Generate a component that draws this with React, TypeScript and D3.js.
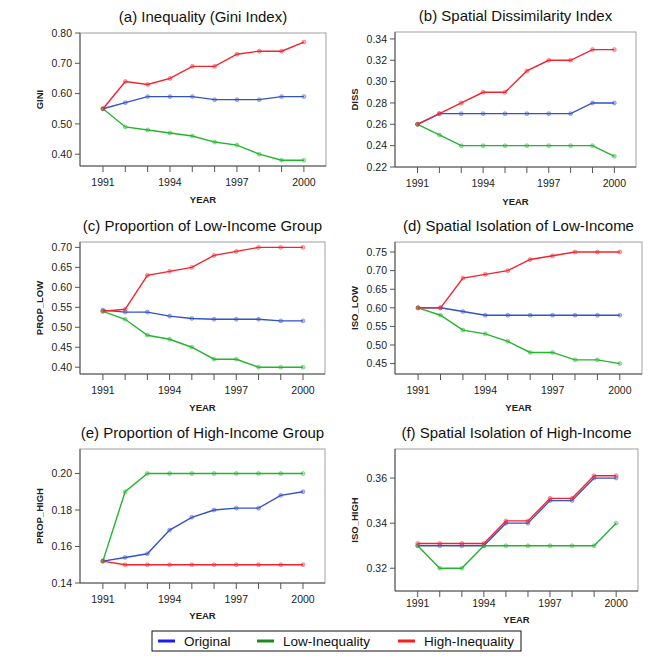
import React from "react";
import * as d3 from "d3";

const years = [1991, 1992, 1993, 1994, 1995, 1996, 1997, 1998, 1999, 2000];
const xTickLabels = [1991, 1994, 1997, 2000];
const seriesNames = ["Original", "Low-Inequality", "High-Inequality"];

const giniOriginal = [0.55, 0.57, 0.59, 0.59, 0.59, 0.58, 0.58, 0.58, 0.59, 0.59];
const giniLow = [0.55, 0.49, 0.48, 0.47, 0.46, 0.44, 0.43, 0.40, 0.38, 0.38];
const giniHigh = [0.55, 0.64, 0.63, 0.65, 0.69, 0.69, 0.73, 0.74, 0.74, 0.77];

const dissOriginal = [0.26, 0.27, 0.27, 0.27, 0.27, 0.27, 0.27, 0.27, 0.28, 0.28];
const dissLow = [0.26, 0.25, 0.24, 0.24, 0.24, 0.24, 0.24, 0.24, 0.24, 0.23];
const dissHigh = [0.26, 0.27, 0.28, 0.29, 0.29, 0.31, 0.32, 0.32, 0.33, 0.33];

const propLowOriginal = [0.543, 0.538, 0.538, 0.528, 0.522, 0.52, 0.52, 0.52, 0.516, 0.516];
const propLowLow = [0.54, 0.52, 0.48, 0.47, 0.45, 0.42, 0.42, 0.40, 0.40, 0.40];
const propLowHigh = [0.54, 0.545, 0.63, 0.64, 0.65, 0.68, 0.69, 0.70, 0.70, 0.70];

const isoLowOriginal = [0.60, 0.60, 0.59, 0.58, 0.58, 0.58, 0.58, 0.58, 0.58, 0.58];
const isoLowLow = [0.60, 0.58, 0.54, 0.53, 0.51, 0.48, 0.48, 0.46, 0.46, 0.45];
const isoLowHigh = [0.60, 0.60, 0.68, 0.69, 0.70, 0.73, 0.74, 0.75, 0.75, 0.75];

const propHighOriginal = [0.152, 0.154, 0.156, 0.169, 0.176, 0.18, 0.181, 0.181, 0.188, 0.19];
const propHighLow = [0.152, 0.19, 0.20, 0.20, 0.20, 0.20, 0.20, 0.20, 0.20, 0.20];
const propHighHigh = [0.152, 0.15, 0.15, 0.15, 0.15, 0.15, 0.15, 0.15, 0.15, 0.15];

const isoHighOriginal = [0.33, 0.33, 0.33, 0.33, 0.34, 0.34, 0.35, 0.35, 0.36, 0.36];
const isoHighLow = [0.33, 0.32, 0.32, 0.33, 0.33, 0.33, 0.33, 0.33, 0.33, 0.34];
const isoHighHigh = [0.331, 0.331, 0.331, 0.331, 0.341, 0.341, 0.351, 0.351, 0.361, 0.361];

const titles = [
  "(a) Inequality (Gini Index)",
  "(b) Spatial Dissimilarity Index",
  "(c) Proportion of Low-Income Group",
  "(d) Spatial Isolation of Low-Income",
  "(e) Proportion of High-Income Group",
  "(f) Spatial Isolation of High-Income",
];
const yLabels = ["GINI", "DISS", "PROP_LOW", "ISO_LOW", "PROP_HIGH", "ISO_HIGH"];
const yTicks = [
  [0.4, 0.5, 0.6, 0.7, 0.8],
  [0.22, 0.24, 0.26, 0.28, 0.3, 0.32, 0.34],
  [0.4, 0.45, 0.5, 0.55, 0.6, 0.65, 0.7],
  [0.45, 0.5, 0.55, 0.6, 0.65, 0.7, 0.75],
  [0.14, 0.16, 0.18, 0.2],
  [0.32, 0.34, 0.36],
];
const yDomains = [
  [0.361, 0.8],
  [0.22, 0.3465],
  [0.383, 0.7135],
  [0.422, 0.777],
  [0.14, 0.2134],
  [0.3099, 0.3729],
];
const panelSeries = [
  [giniOriginal, giniLow, giniHigh],
  [dissOriginal, dissLow, dissHigh],
  [propLowOriginal, propLowLow, propLowHigh],
  [isoLowOriginal, isoLowLow, isoLowHigh],
  [propHighOriginal, propHighLow, propHighHigh],
  [isoHighOriginal, isoHighLow, isoHighHigh],
];

// layout: [left, top, right, bottom]
const boxes = [
  [80, 33, 326, 166],
  [395, 32, 636, 167],
  [80, 242, 325, 374],
  [395, 242, 642, 374],
  [80, 449, 325, 583],
  [395, 449, 638, 591],
];
const xLabOffsets = [20, 19.5, 20, 20, 20, 16];
const yearOffsets = [37, 37.5, 36.5, 36.5, 36, 32];

const lineColors = ["#3352c8", "#22b52e", "#f5222e"];
const legendColors = ["#1a1aff", "#1a8a1a", "#ff1a1a"];
const FONT = "'Liberation Sans', Arial, sans-serif";

function Panel({ i }: { i: number }) {
  const [l, t, r, b] = boxes[i];
  const x = d3.scaleLinear().domain([1989.97, 2000.99]).range([l, r]);
  const y = d3.scaleLinear().domain(yDomains[i]).range([b, t]);
  const line = d3
    .line<number>()
    .x((_, k) => x(years[k]))
    .y((v) => y(v));
  const fmt = d3.format(".2f");
  const cx = (l + r) / 2;
  return (
    <g>
      <text x={cx} y={t - 11} textAnchor="middle" fontSize={15} fontFamily={FONT} fill="#111">
        {titles[i]}
      </text>
      <rect x={l} y={t} width={r - l} height={b - t} fill="none" stroke="#a0a0a0" strokeWidth={1} />
      <line x1={l} x2={l} y1={t} y2={b} stroke="#555" />
      <line x1={l} x2={r} y1={b} y2={b} stroke="#555" />
      {yTicks[i].map((v) => (
        <g key={v}>
          <line x1={l - 5} x2={l} y1={y(v)} y2={y(v)} stroke="#555" />
          <text x={l - 8} y={y(v) + 3.8} textAnchor="end" fontSize={10.5} fontFamily={FONT} fill="#222">
            {fmt(v)}
          </text>
        </g>
      ))}
      {years.map((yr) => (
        <line key={yr} x1={x(yr)} x2={x(yr)} y1={b} y2={b + 6} stroke="#555" />
      ))}
      {xTickLabels.map((yr) => (
        <text key={yr} x={x(yr)} y={b + xLabOffsets[i]} textAnchor="middle" fontSize={10.5} fontFamily={FONT} fill="#222">
          {yr}
        </text>
      ))}
      <text x={cx} y={b + yearOffsets[i]} textAnchor="middle" fontSize={9.5} fontWeight="bold" fontFamily={FONT} fill="#222">
        YEAR
      </text>
      <text
        transform={`translate(${l - 37},${(t + b) / 2}) rotate(-90)`}
        textAnchor="middle"
        fontSize={9.5}
        fontWeight="bold"
        fontFamily={FONT}
        fill="#222"
      >
        {yLabels[i]}
      </text>
      {panelSeries[i].map((vals, s) => (
        <g key={s}>
          <path d={line(vals) || ""} fill="none" stroke={lineColors[s]} strokeWidth={1.4} />
          {vals.map((v, k) => (
            <circle key={k} cx={x(years[k])} cy={y(v)} r={2} fill={lineColors[s]} fillOpacity={0.35} stroke={lineColors[s]} strokeOpacity={0.5} strokeWidth={0.8} />
          ))}
        </g>
      ))}
    </g>
  );
}

export default function App() {
  const legendX = [158, 257, 398];
  return (
    <svg width={672} height={660} style={{ position: "absolute", left: 0, top: 0, background: "#fff" }}>
      <rect width={672} height={660} fill="#fff" />
      {titles.map((_, i) => (
        <Panel key={i} i={i} />
      ))}
      <rect x={152} y={631} width={369} height={20} fill="#fff" stroke="#111" strokeWidth={1} />
      {seriesNames.map((n, s) => (
        <g key={n}>
          <line x1={legendX[s]} x2={legendX[s] + 17} y1={641} y2={641} stroke={legendColors[s]} strokeWidth={3} />
          <text x={legendX[s] + 26} y={645.5} fontSize={13.5} fontFamily={FONT} fill="#111">
            {n}
          </text>
        </g>
      ))}
    </svg>
  );
}
